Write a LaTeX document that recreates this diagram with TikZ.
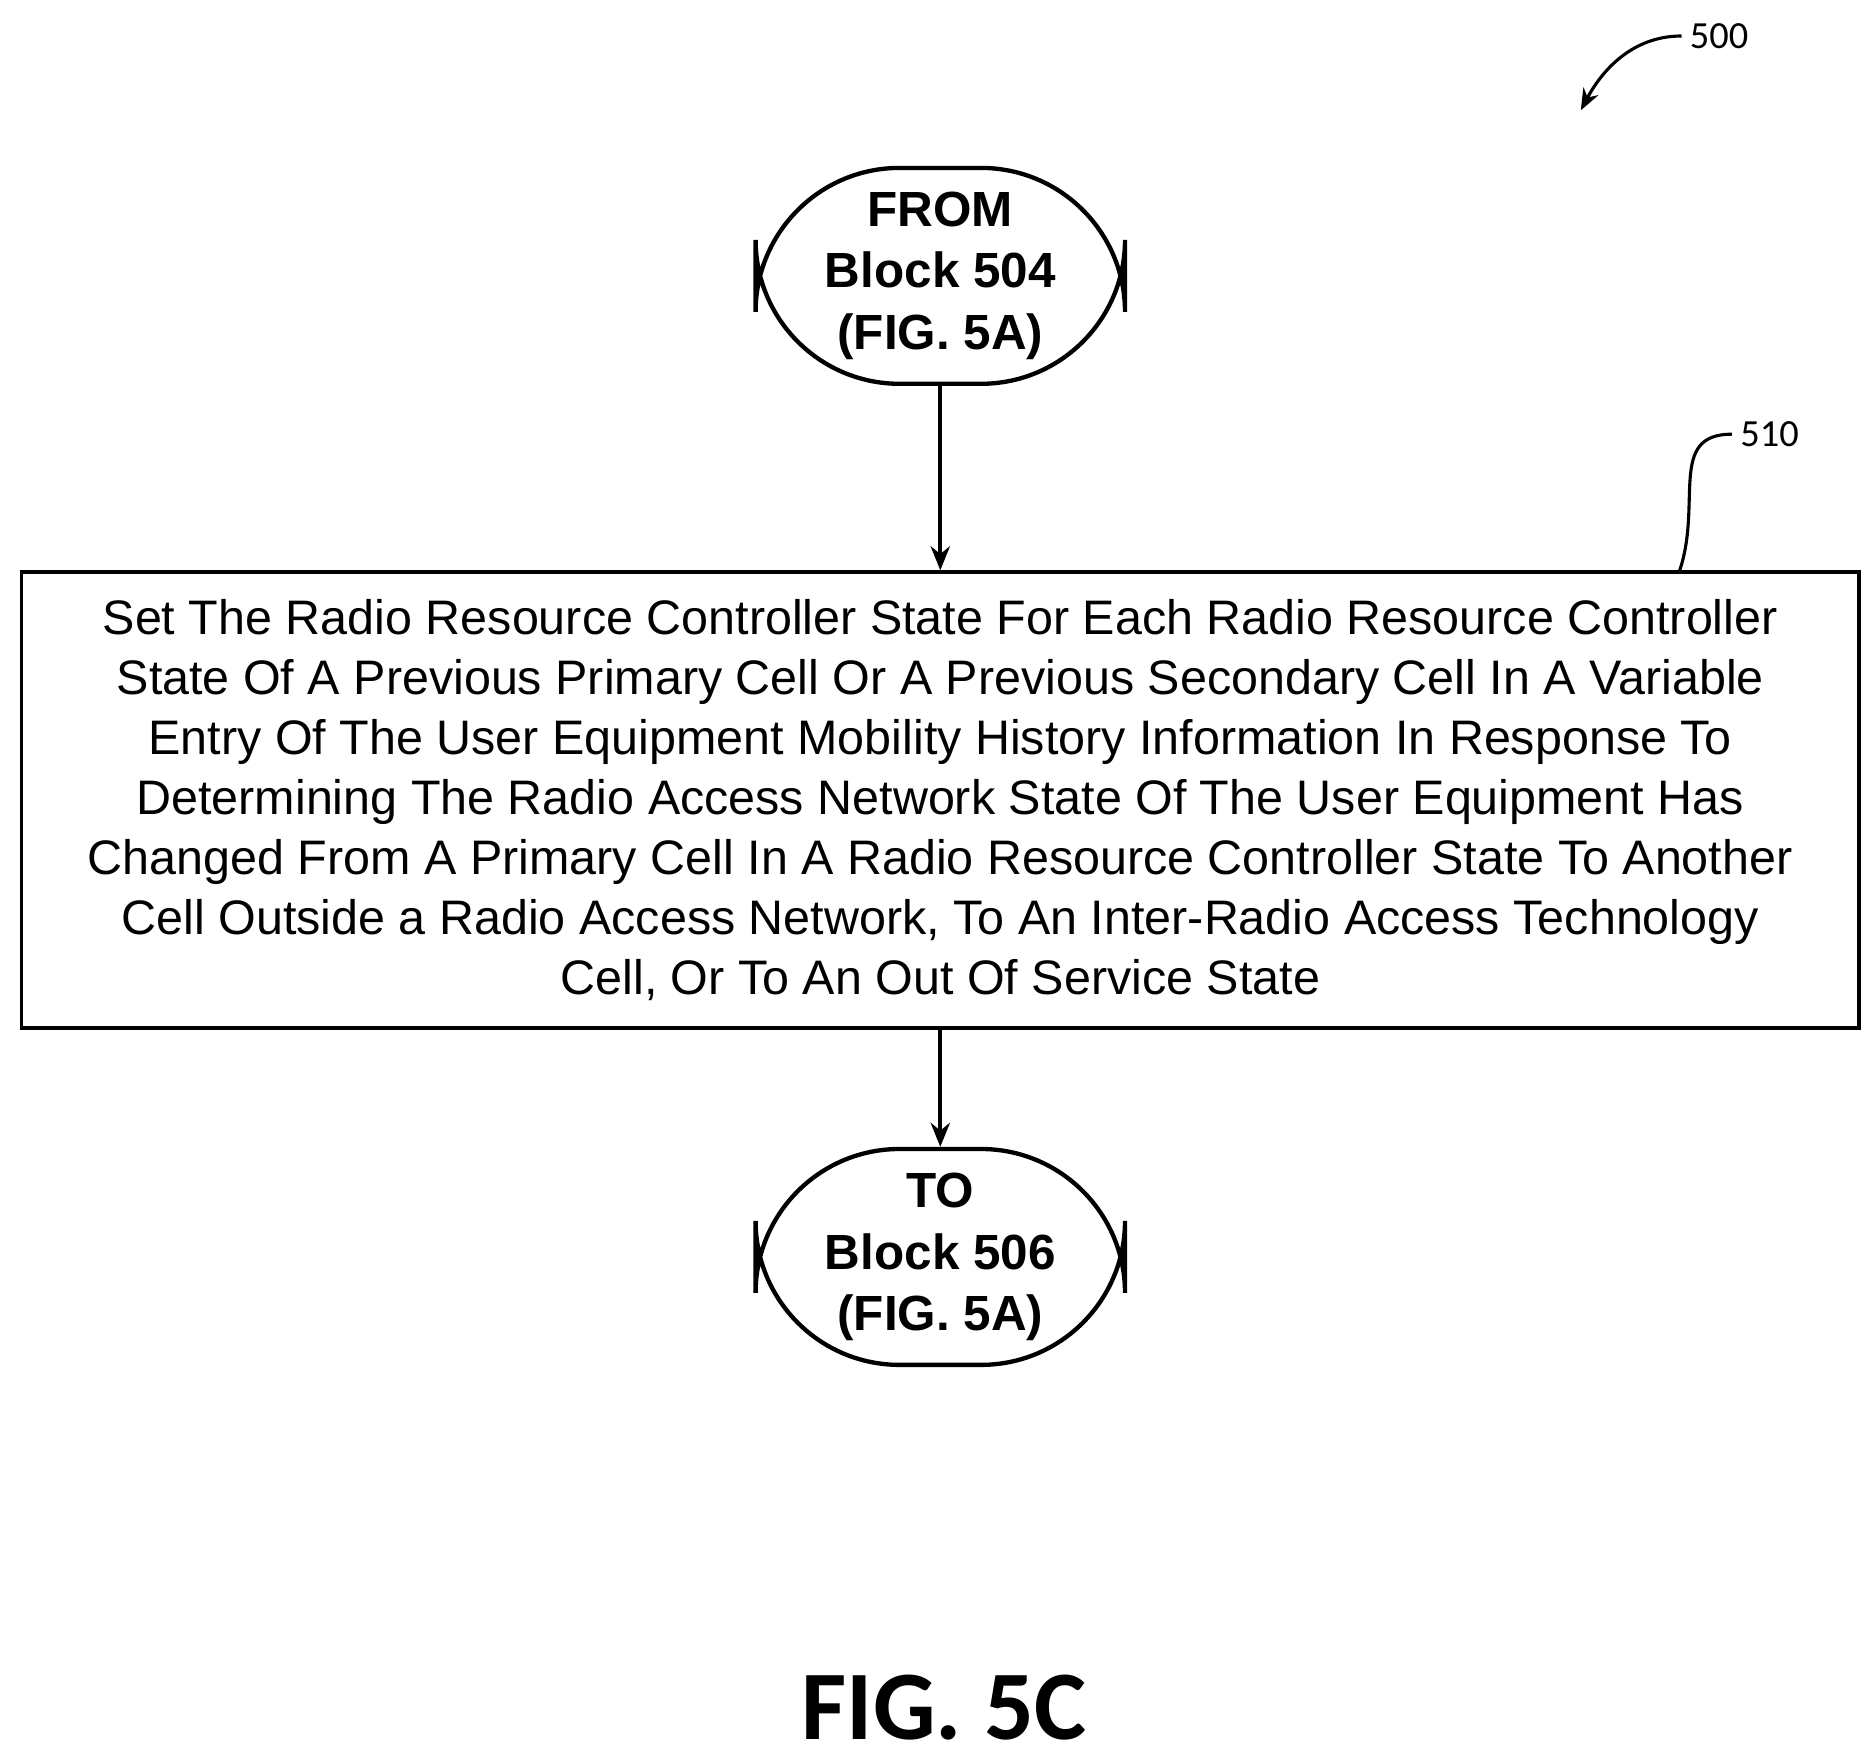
\documentclass[tikz,border=0pt]{standalone}
\usepackage{fontspec}
\setmainfont{Liberation Sans}
\newfontfamily\carlitofont{Carlito}
\usetikzlibrary{arrows.meta}
\begin{document}
\begin{tikzpicture}[x=0.5pt,y=-0.5pt,
  term/.style={draw,line width=1.8pt,rounded corners=60pt,minimum width=154pt,minimum height=90pt,align=center,font=\fontsize{20.6}{25.5}\selectfont\bfseries},
  box/.style={draw,line width=1.5pt,minimum width=766pt,minimum height=190pt,align=center,inner xsep=2pt,font=\fontsize{20.2}{25}\selectfont},
  arr/.style={line width=1.8pt,-{Stealth[length=10pt,width=8pt]}},
  lab/.style={font=\carlitofont\fontsize{16}{18}\selectfont}]
\useasboundingbox (0,0) rectangle (1560,1468);
\node[term] (a) at (784,230) {FROM\\Block 504\\(FIG. 5A)};
\node[box] (b) at (784,667) {Set The Radio Resource Controller State For Each Radio Resource Controller\\State Of A Previous Primary Cell Or A Previous Secondary Cell In A Variable\\Entry Of The User Equipment Mobility History Information In Response To\\Determining The Radio Access Network State Of The User Equipment Has\\Changed From A Primary Cell In A Radio Resource Controller State To Another\\Cell Outside a Radio Access Network, To An Inter-Radio Access Technology\\Cell, Or To An Out Of Service State};
\node[term] (c) at (784,1048) {TO\\Block 506\\(FIG. 5A)};
\draw[arr] (a) -- (b);
\draw[arr] (b) -- (c);
\node[font=\carlitofont\bfseries\fontsize{41}{43}\selectfont] (f) at (787,1424) {FIG. 5C};
\node[lab,anchor=west] (n500) at (1402,30) {500};
\node[lab,anchor=west] (n510) at (1444,362) {510};
\draw[line width=1.3pt,-{Stealth[length=9pt,width=7pt]}] (n500.west) .. controls (1360,30) and (1335,60) .. (1318,92);
\draw[line width=1.3pt] (n510.west) .. controls (1390,362) and (1420,420) .. (1400,477);
\end{tikzpicture}
\end{document}
